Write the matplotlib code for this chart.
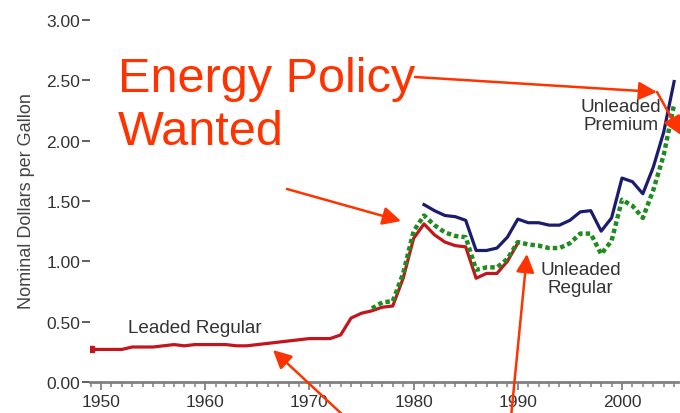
import matplotlib
matplotlib.use("Agg")
import matplotlib.pyplot as plt
from matplotlib.patches import FancyArrowPatch
from matplotlib.ticker import MultipleLocator

plt.rcParams['font.family'] = ['Liberation Sans', 'DejaVu Sans']

# datos (dolares nominales por galon)
anios_leaded = list(range(1949, 1991))
leaded = [0.27, 0.27, 0.27, 0.27, 0.29, 0.29, 0.29, 0.30, 0.31, 0.30, 0.31,
          0.31, 0.31, 0.31, 0.30, 0.30, 0.31, 0.32, 0.33, 0.34, 0.35,
          0.36, 0.36, 0.36, 0.39, 0.53, 0.57, 0.59, 0.62, 0.63, 0.86,
          1.19, 1.31, 1.22, 1.16, 1.13, 1.12, 0.86, 0.90, 0.90, 1.00, 1.15]

anios_regular = list(range(1976, 2006))
unleaded_regular = [0.61, 0.66, 0.67, 0.90, 1.25, 1.38, 1.30, 1.24, 1.21, 1.20,
                    0.93, 0.95, 0.95, 1.02, 1.16, 1.14, 1.13, 1.11, 1.11, 1.15,
                    1.23, 1.23, 1.06, 1.17, 1.51, 1.46, 1.36, 1.59, 1.88, 2.30]

anios_premium = list(range(1981, 2006))
unleaded_premium = [1.47, 1.42, 1.38, 1.37, 1.34, 1.09, 1.09, 1.11, 1.20, 1.35,
                    1.32, 1.32, 1.30, 1.30, 1.34, 1.41, 1.42, 1.25, 1.36, 1.69,
                    1.66, 1.56, 1.78, 2.07, 2.49]

yticks = [0.0, 0.5, 1.0, 1.5, 2.0, 2.5, 3.0]
xticks = [1950, 1960, 1970, 1980, 1990, 2000]

ROJO = '#FF3300'
W, H = 680, 414

fig = plt.figure(figsize=(6.8, 4.14), dpi=100)
ppx = 10.42   # pixeles por anio
x0, x1 = 1950 - 11 / ppx, 2005.35
ax = fig.add_axes([90 / W, 31 / H, (x1 - x0) * ppx / W, 362 / H])
ax.set_xlim(x0, x1)
ax.set_ylim(0, 3.0)

ax.plot(anios_leaded, leaded, color='#C3161C', lw=2.3, solid_capstyle='butt')
ax.plot(anios_leaded[:1], leaded[:1], marker='s', ms=5, color='#C3161C')
ax.plot(anios_premium, unleaded_premium, color='#1C1C6E', lw=2.3)
ax.plot(anios_regular, unleaded_regular, color='#1E8C1E', lw=3.2,
        linestyle=(0, (1.0, 0.7)))

for s in ['top', 'right', 'left']:
    ax.spines[s].set_visible(False)
ax.spines['bottom'].set_color('#808080')
ax.spines['bottom'].set_linewidth(2)

ax.set_yticks(yticks)
ax.set_yticklabels([f"{v:.2f}" for v in yticks])
ax.set_xticks(xticks)
ax.xaxis.set_minor_locator(MultipleLocator(1))
ax.tick_params(axis='y', direction='out', length=6, width=1.2, color='#444444',
               labelsize=12.5, labelcolor='#333333', pad=1)
ax.tick_params(axis='x', which='major', direction='out', length=6, width=1.3,
               color='#808080', labelsize=12.5, labelcolor='#333333', pad=3)
ax.tick_params(axis='x', which='minor', direction='out', length=3.5, width=1.1,
               color='#808080')

fig.text(27 / W, 1 - 201 / H, "Nominal Dollars per Gallon", rotation=90,
         ha='center', va='center', fontsize=13, color='#444444')

# etiquetas de las series
ax.text(1952.6, 0.45, "Leaded Regular", fontsize=13.6, color='#333333',
        ha='left', va='center')
ax.text(1996.0, 0.86, "Unleaded\nRegular", fontsize=13.6, color='#333333',
        ha='center', va='center', linespacing=1.05)
ax.text(1999.9, 2.21, "Unleaded\nPremium", fontsize=13.6, color='#333333',
        ha='center', va='center', linespacing=1.05)

# texto grande
fig.text(118 / W, 1 - 92 / H, "Energy Policy", fontsize=35, color=ROJO,
         ha='left', va='baseline')
fig.text(118 / W, 1 - 145 / H, "Wanted", fontsize=35, color=ROJO,
         ha='left', va='baseline')

# flechas (en pixeles de la figura, y desde arriba)
flechas = [
    ((415, 78), (657, 93)),
    ((657, 93), (681, 136)),
    ((287, 190), (401, 222)),
    ((345, 418), (273, 351)),
    ((511, 418), (527, 255)),
]
for tail, tip in flechas:
    fig.add_artist(FancyArrowPatch(
        posA=(tail[0], H - tail[1]), posB=(tip[0], H - tip[1]), transform=None,
        arrowstyle='-|>,head_length=1.1,head_width=0.55', mutation_scale=10,
        color=ROJO, lw=1.8, shrinkA=0, shrinkB=0))

fig.savefig("out.png", dpi=100)
